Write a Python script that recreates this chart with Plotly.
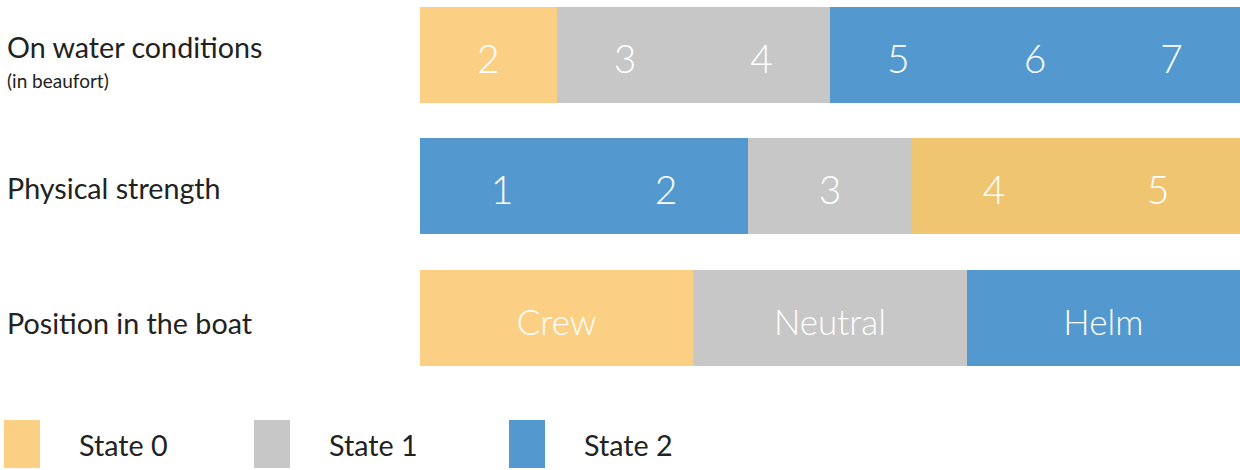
import plotly.graph_objects as go

# ---- data ----
row_names = ["On water conditions", "Physical strength", "Position in the boat"]
row_subtitle = "(in beaufort)"
water_labels = ["2", "3", "4", "5", "6", "7"]
water_states = [0, 1, 1, 2, 2, 2]
strength_labels = ["1", "2", "3", "4", "5"]
strength_states = [2, 2, 1, 0, 0]
position_labels = ["Crew", "Neutral", "Helm"]
position_states = [0, 1, 2]
legend_labels = ["State 0", "State 1", "State 2"]

state_colors = ["#FBD085", "#C6C7C6", "#5399CF"]
strength_colors = ["#F0C572", "#C6C7C6", "#5399CF"]

W, H = 1240, 470
X0 = 420  # pixel where bars start
ROW_STEP = 131.5
ROW0 = 54.5
BAR_PX = 96
TEXT_SHIFT_PX = 8.5

fig = go.Figure()

rows = [
    (water_labels, water_states, state_colors, 39),
    (strength_labels, strength_states, strength_colors, 39),
    (position_labels, position_states, state_colors, 35),
]
for ri, (labels, states, pal, fs) in enumerate(rows):
    n = len(labels)
    widths = [1.0 / n] * n
    bases = [i / n for i in range(n)]
    fig.add_trace(go.Bar(
        orientation="h",
        x=widths, base=bases, y=[ri] * n,
        width=BAR_PX / ROW_STEP,
        marker=dict(color=[pal[s] for s in states], line=dict(width=0)),
        hoverinfo="skip", showlegend=False,
    ))
    fig.add_trace(go.Scatter(
        x=[b + w / 2 for b, w in zip(bases, widths)],
        y=[ri + TEXT_SHIFT_PX / ROW_STEP] * n,
        mode="text", text=labels, textposition="middle center",
        textfont=dict(family="Lato", size=fs, color="white", weight=300),
        hoverinfo="skip", showlegend=False,
    ))

xmin = -X0 / (W - X0)
ymin = -ROW0 / ROW_STEP
ymax = (H - ROW0) / ROW_STEP
fig.update_layout(
    width=W, height=H,
    margin=dict(l=0, r=0, t=0, b=0),
    paper_bgcolor="white", plot_bgcolor="white",
    barmode="overlay", bargap=0,
    xaxis=dict(range=[xmin, 1], visible=False, fixedrange=True),
    yaxis=dict(range=[ymax, ymin], visible=False, fixedrange=True),
    font=dict(family="Lato", color="#222222"),
)

# row labels
label_y = [47, 188, 323]
for name, yp in zip(row_names, label_y):
    fig.add_annotation(text=name, xref="paper", yref="paper",
                       x=5 / W, y=1 - yp / H, xanchor="left", yanchor="middle",
                       showarrow=False, font=dict(family="Lato", size=28.7, color="#222222"))
fig.add_annotation(text=row_subtitle, xref="paper", yref="paper",
                   x=5 / W, y=1 - 81 / H, xanchor="left", yanchor="middle",
                   showarrow=False, font=dict(family="Lato", size=19, color="#222222"))

# legend
leg_x = [4, 254, 509]
for lab, lx, col in zip(legend_labels, leg_x, state_colors):
    fig.add_shape(type="rect", xref="paper", yref="paper",
                  x0=lx / W, x1=(lx + 36) / W, y0=1 - 468 / H, y1=1 - 420 / H,
                  fillcolor=col, line=dict(width=0))
    fig.add_annotation(text=lab, xref="paper", yref="paper",
                       x=(lx + 73) / W, y=1 - 445 / H, xanchor="left", yanchor="middle",
                       showarrow=False, font=dict(family="Lato", size=28.7, color="#222222"))

fig.write_html("out.html", config={"displayModeBar": False},
               post_script="document.body.style.margin='0px';")
